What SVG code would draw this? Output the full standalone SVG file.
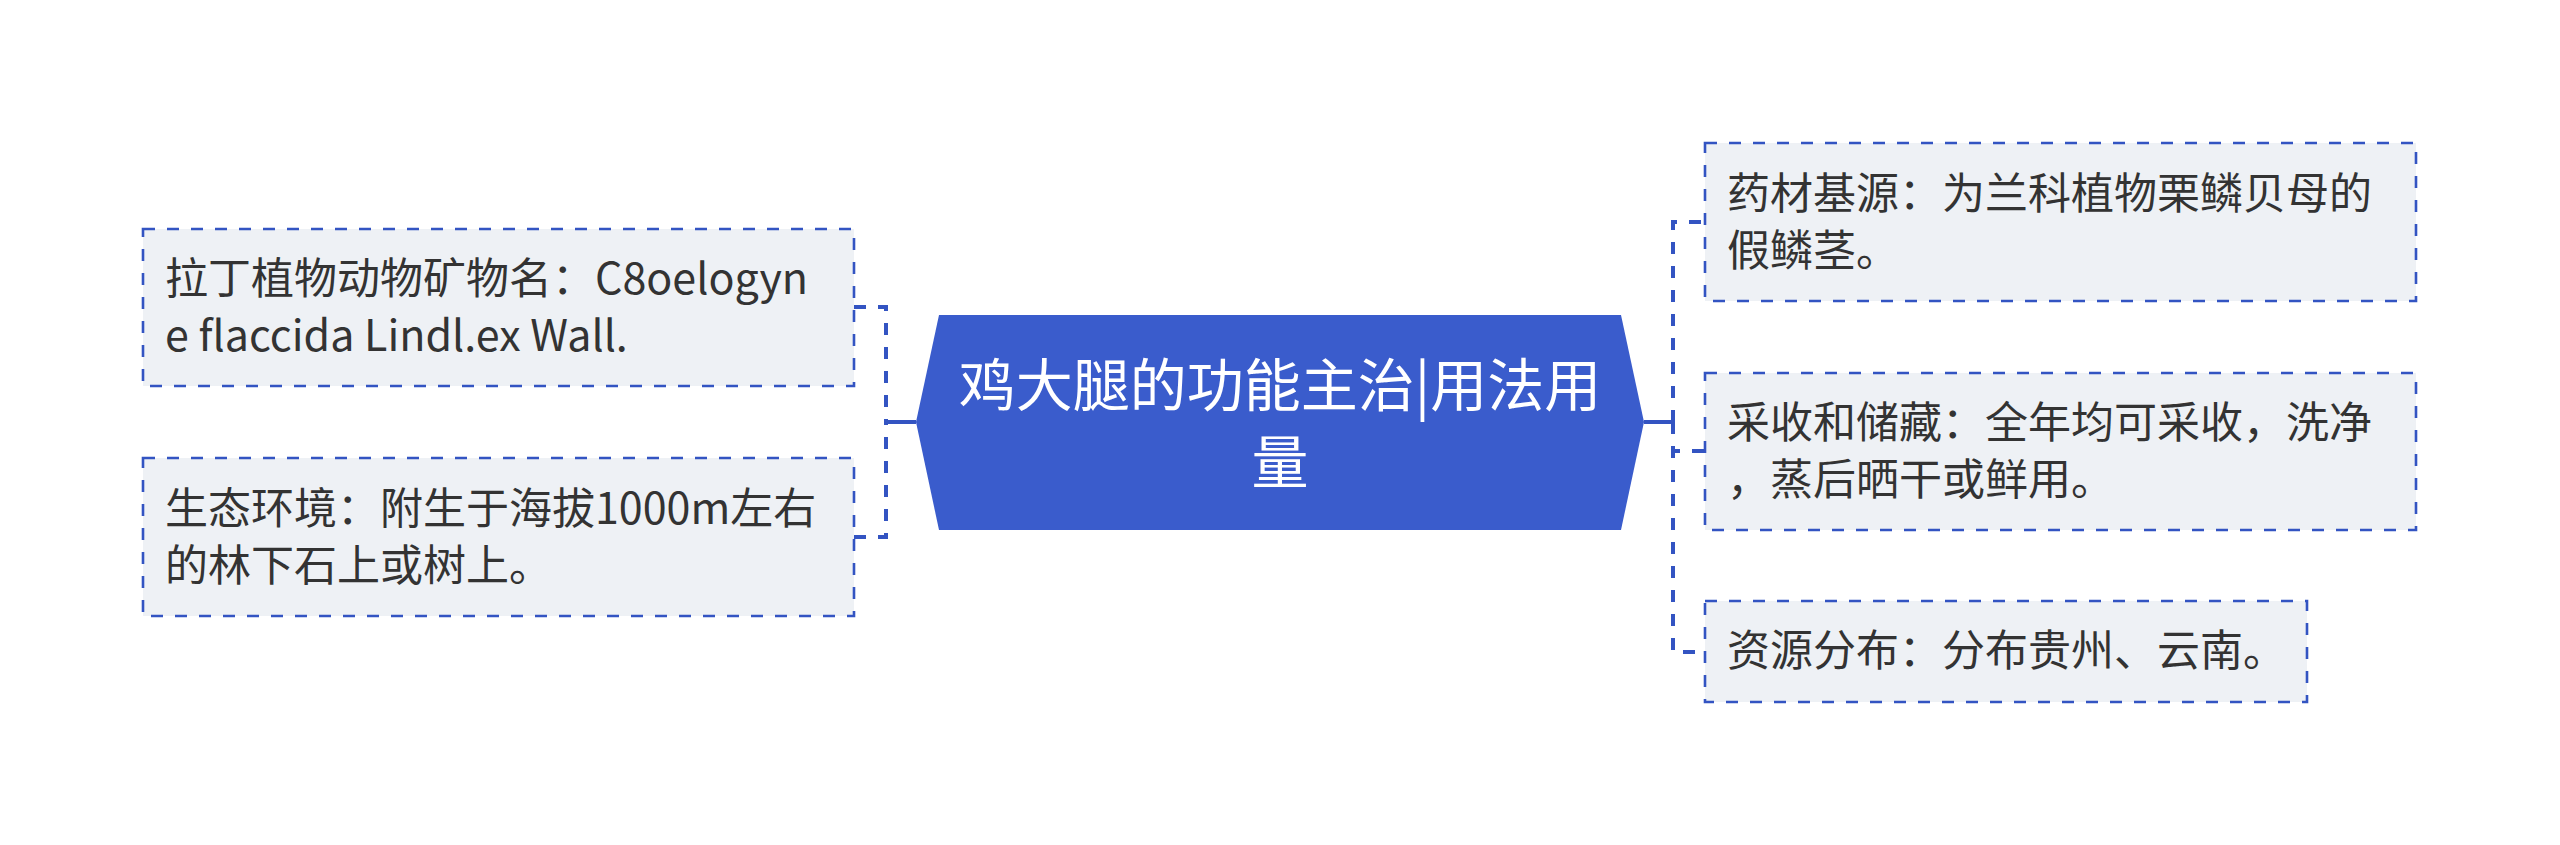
<svg xmlns="http://www.w3.org/2000/svg" width="2560" height="845" viewBox="0 0 2560 845">
<style>
.box{fill:#eef1f5;stroke:#3354c2;stroke-width:2.6;stroke-dasharray:12 12}
.t{font-family:"Noto Sans CJK SC","Noto Sans",sans-serif;font-size:43px;fill:#333333}
.ct{font-family:"Noto Sans CJK SC","Noto Sans",sans-serif;font-size:57px;fill:#ffffff;text-anchor:middle}
.dash{fill:none;stroke:#3354c2;stroke-width:4;stroke-dasharray:12 12}
.solid{fill:none;stroke:#3354c2;stroke-width:4}
</style>
<rect width="2560" height="845" fill="#ffffff"/>
<g id="connectors">
<path class="solid" d="M916 422 H886"/>
<path class="dash" d="M854 307 H886 V422"/>
<path class="dash" d="M854 537 H886 V422"/>
<path class="solid" d="M1644 422 H1673"/>
<path class="dash" d="M1673 422 V222 H1705"/>
<path class="dash" d="M1673 422 V451 H1705"/>
<path class="dash" d="M1673 422 V652 H1705"/>
</g>
<g id="center">
<polygon points="939,315 1621,315 1644,422 1621,530 939,530 916,422" fill="#3a5ccc"/>
<text class="ct" x="1280" y="406">鸡大腿的功能主治|用法用</text>
<text class="ct" x="1280" y="483">量</text>
</g>
<g id="left1">
<rect class="box" x="143" y="229" width="711" height="157"/>
<text class="t" x="165" y="294">拉丁植物动物矿物名：C8oelogyn</text>
<text class="t" x="165" y="351">e flaccida Lindl.ex Wall.</text>
</g>
<g id="left2">
<rect class="box" x="143" y="458" width="711" height="158"/>
<text class="t" x="165" y="524">生态环境：附生于海拔1000m左右</text>
<text class="t" x="165" y="581">的林下石上或树上。</text>
</g>
<g id="right1">
<rect class="box" x="1705" y="143" width="711" height="158"/>
<text class="t" x="1727" y="209">药材基源：为兰科植物栗鳞贝母的</text>
<text class="t" x="1727" y="266">假鳞茎。</text>
</g>
<g id="right2">
<rect class="box" x="1705" y="373" width="711" height="157"/>
<text class="t" x="1727" y="438">采收和储藏：全年均可采收，洗净</text>
<text class="t" x="1727" y="495">，蒸后晒干或鲜用。</text>
</g>
<g id="right3">
<rect class="box" x="1705" y="601" width="602" height="101"/>
<text class="t" x="1727" y="666">资源分布：分布贵州、云南。</text>
</g>
</svg>
